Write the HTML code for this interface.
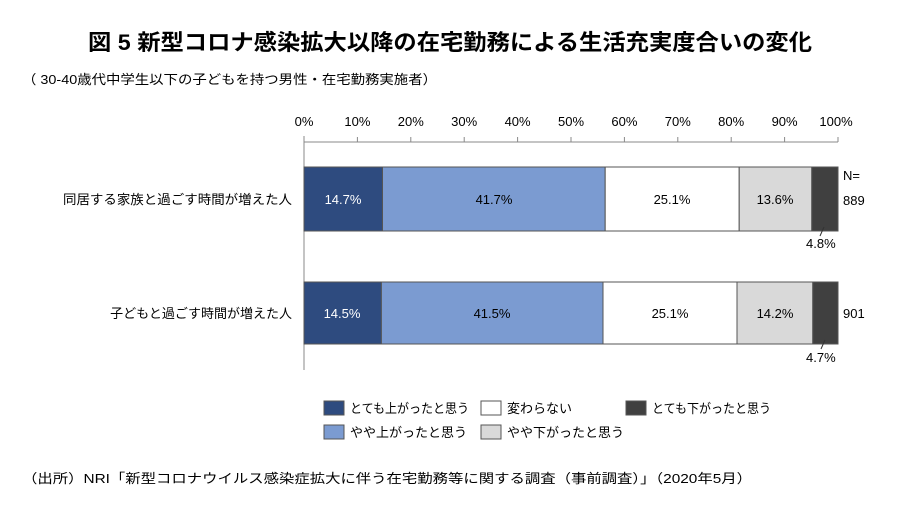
<!DOCTYPE html>
<html><head><meta charset="utf-8"><style>
body{margin:0;background:#fff;}
svg text{font-family:"Liberation Sans","Noto Sans CJK JP",sans-serif;}
</style></head><body>
<svg width="900" height="510" xmlns="http://www.w3.org/2000/svg">
<rect width="900" height="510" fill="#fff"/>
<text x="88" y="50" textLength="724" lengthAdjust="spacingAndGlyphs" font-size="22" font-weight="bold" fill="#000">図 5 新型コロナ感染拡大以降の在宅勤務による生活充実度合いの変化</text>
<text x="22" y="84" textLength="415" lengthAdjust="spacingAndGlyphs" font-size="13" fill="#000">（ 30-40歳代中学生以下の子どもを持つ男性・在宅勤務実施者）</text>
<g font-size="13" fill="#000" text-anchor="middle">
<text x="304" y="126">0%</text><text x="357.4" y="126">10%</text><text x="410.8" y="126">20%</text><text x="464.2" y="126">30%</text><text x="517.6" y="126">40%</text><text x="571" y="126">50%</text><text x="624.4" y="126">60%</text><text x="677.8" y="126">70%</text><text x="731.2" y="126">80%</text><text x="784.6" y="126">90%</text><text x="836" y="126">100%</text>
</g>
<g stroke="#888" stroke-width="1">
<line x1="304" y1="142" x2="838" y2="142"/>
<line x1="304" y1="136" x2="304" y2="370"/>
<line x1="357.4" y1="137" x2="357.4" y2="142"/><line x1="410.8" y1="137" x2="410.8" y2="142"/><line x1="464.2" y1="137" x2="464.2" y2="142"/><line x1="517.6" y1="137" x2="517.6" y2="142"/><line x1="571" y1="137" x2="571" y2="142"/><line x1="624.4" y1="137" x2="624.4" y2="142"/><line x1="677.8" y1="137" x2="677.8" y2="142"/><line x1="731.2" y1="137" x2="731.2" y2="142"/><line x1="784.6" y1="137" x2="784.6" y2="142"/><line x1="838" y1="137" x2="838" y2="142"/>
</g>
<g stroke="#555" stroke-width="1">
<rect x="304" y="167" width="78.5" height="64" fill="#2e4b7f"/>
<rect x="382.5" y="167" width="222.7" height="64" fill="#7b9bd1"/>
<rect x="605.2" y="167" width="134" height="64" fill="#fff"/>
<rect x="739.2" y="167" width="72.6" height="64" fill="#d9d9d9"/>
<rect x="811.8" y="167" width="26.2" height="64" fill="#404040"/>
<rect x="304" y="282" width="77.4" height="62" fill="#2e4b7f"/>
<rect x="381.4" y="282" width="221.6" height="62" fill="#7b9bd1"/>
<rect x="603" y="282" width="134" height="62" fill="#fff"/>
<rect x="737" y="282" width="75.8" height="62" fill="#d9d9d9"/>
<rect x="812.8" y="282" width="25.2" height="62" fill="#404040"/>
</g>
<g font-size="13" text-anchor="middle">
<text x="343" y="204" fill="#fff">14.7%</text><text x="494" y="204">41.7%</text><text x="672" y="204">25.1%</text><text x="775" y="204">13.6%</text>
<text x="342" y="318" fill="#fff">14.5%</text><text x="492" y="318">41.5%</text><text x="670" y="318">25.1%</text><text x="775" y="318">14.2%</text>
</g>
<g font-size="13">
<text x="843" y="180">N=</text><text x="843" y="205">889</text><text x="843" y="318">901</text>
<text x="806" y="248">4.8%</text><text x="806" y="362">4.7%</text>
<text x="292" y="204" text-anchor="end" textLength="229" lengthAdjust="spacingAndGlyphs">同居する家族と過ごす時間が増えた人</text>
<text x="292" y="318" text-anchor="end">子どもと過ごす時間が増えた人</text>
</g>
<g stroke="#333"><line x1="824" y1="227" x2="820" y2="236"/><line x1="825" y1="340" x2="821" y2="349"/></g>
<g stroke="#555" font-size="13">
<rect x="324" y="401" width="20" height="14" fill="#2e4b7f"/>
<rect x="481" y="401" width="20" height="14" fill="#fff"/>
<rect x="626" y="401" width="20" height="14" fill="#404040"/>
<rect x="324" y="425" width="20" height="14" fill="#7b9bd1"/>
<rect x="481" y="425" width="20" height="14" fill="#d9d9d9"/>
</g>
<g font-size="13">
<text x="350" y="413" textLength="119" lengthAdjust="spacingAndGlyphs">とても上がったと思う</text>
<text x="507" y="413">変わらない</text>
<text x="652" y="413" textLength="119" lengthAdjust="spacingAndGlyphs">とても下がったと思う</text>
<text x="350" y="437">やや上がったと思う</text>
<text x="507" y="437">やや下がったと思う</text>
</g>
<text x="22" y="483" font-size="13" textLength="730" lengthAdjust="spacingAndGlyphs">（出所）NRI「新型コロナウイルス感染症拡大に伴う在宅勤務等に関する調査（事前調査）」（2020年5月）</text>
</svg>
</body></html>
